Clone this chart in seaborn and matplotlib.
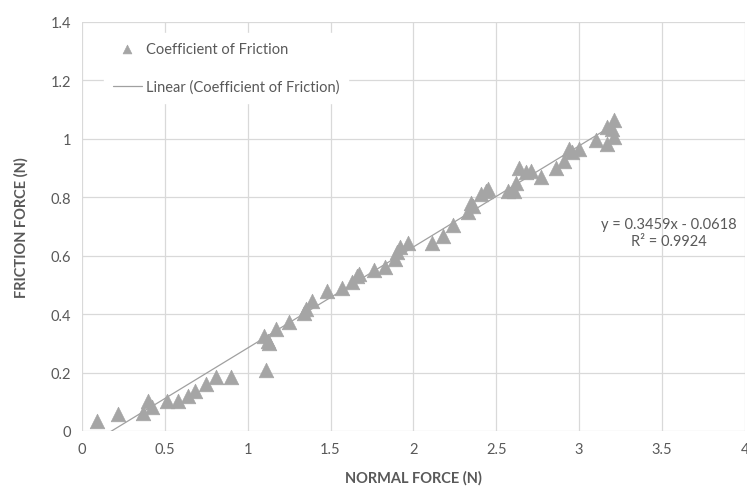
import matplotlib
matplotlib.use("Agg")
import matplotlib.pyplot as plt
import seaborn as sns
import numpy as np
import pandas as pd

normal_force = [0.09, 0.22, 0.37, 0.40, 0.42, 0.51, 0.58, 0.64, 0.68, 0.75, 0.81, 0.90,
                1.11, 1.10, 1.12, 1.13, 1.17, 1.25, 1.34, 1.35, 1.39, 1.48, 1.57, 1.63,
                1.66, 1.67, 1.76, 1.83, 1.89, 1.90, 1.92, 1.97, 2.11, 2.18, 2.24, 2.33,
                2.35, 2.36, 2.41, 2.44, 2.45, 2.57, 2.61, 2.62, 2.64, 2.68, 2.71, 2.77,
                2.86, 2.91, 2.94, 2.96, 3.00, 3.10, 3.17, 3.17, 3.20, 3.21, 3.21]
friction_force = [0.034, 0.058, 0.062, 0.103, 0.082, 0.103, 0.103, 0.120, 0.137, 0.160, 0.185, 0.185,
                  0.209, 0.325, 0.308, 0.300, 0.350, 0.373, 0.404, 0.418, 0.445, 0.479, 0.490, 0.510,
                  0.530, 0.537, 0.550, 0.560, 0.590, 0.613, 0.630, 0.643, 0.643, 0.668, 0.705, 0.750,
                  0.780, 0.770, 0.810, 0.820, 0.830, 0.820, 0.820, 0.850, 0.900, 0.887, 0.890, 0.870,
                  0.900, 0.925, 0.966, 0.955, 0.966, 0.997, 0.983, 1.040, 1.034, 1.065, 1.007]
trend_slope = 0.3459
trend_intercept = -0.0618
r_squared = 0.9924
x_ticks = [0, 0.5, 1, 1.5, 2, 2.5, 3, 3.5, 4]
x_tick_labels = ["0", "0.5", "1", "1.5", "2", "2.5", "3", "3.5", "4"]
y_ticks = [0, 0.2, 0.4, 0.6, 0.8, 1.0, 1.2, 1.4]
y_tick_labels = ["0", "0.2", "0.4", "0.6", "0.8", "1", "1.2", "1.4"]

sns.set_theme(style="white")
plt.rcParams['font.family'] = ['Lato', 'DejaVu Sans']

df = pd.DataFrame({"x": normal_force, "y": friction_force})
xs = np.array([min(normal_force), max(normal_force)])
trend = pd.DataFrame({"x": xs, "y": trend_slope * xs + trend_intercept})

fig = plt.figure(figsize=(7.47, 4.89), dpi=100)
ax = fig.add_axes([0.1098, 0.1166, 0.8872, 0.8364])

grid_c = "#D9D9D9"
txt_c = "#595959"
mk_c = "#A5A5A5"

sns.lineplot(data=trend, x="x", y="y", ax=ax, color="#A0A0A0", linewidth=0.9,
             label="Linear (Coefficient of Friction)", zorder=2)
sns.scatterplot(data=df, x="x", y="y", ax=ax, marker="^", s=110, color=mk_c,
                edgecolor=mk_c, linewidth=0.5, label="Coefficient of Friction", zorder=3)

ax.set_xlim(0, 4)
ax.set_ylim(0, 1.4)
ax.set_xticks(x_ticks)
ax.set_xticklabels(x_tick_labels)
ax.set_yticks(y_ticks)
ax.set_yticklabels(y_tick_labels)
ax.grid(True, color=grid_c, linewidth=0.9)
ax.set_axisbelow(True)
for s in ax.spines.values():
    s.set_visible(False)
ax.tick_params(axis="both", length=0, colors=txt_c, labelsize=10.5, pad=8)

ax.set_xlabel("NORMAL FORCE (N)", color=txt_c, fontsize=10.5, fontweight="bold", labelpad=10)
ax.set_ylabel("FRICTION FORCE (N)", color=txt_c, fontsize=10.5, fontweight="bold", labelpad=16)

ax.text(3.54, 0.68, f"y = {trend_slope}x - {abs(trend_intercept)}\nR² = {r_squared}",
        ha="center", va="center", color=txt_c, fontsize=10.5, linespacing=1.25)

h, l = ax.get_legend_handles_labels()
leg = ax.legend([h[1], h[0]], [l[1], l[0]], loc="upper left", bbox_to_anchor=(0.022, 0.99),
                frameon=True, fontsize=10.5, labelspacing=1.6, handlelength=2.0,
                handletextpad=0.3, borderpad=0.6, markerscale=0.6)
leg.get_frame().set_facecolor("white")
leg.get_frame().set_edgecolor("white")
leg.get_frame().set_alpha(1)
for t in leg.get_texts():
    t.set_color(txt_c)

fig.savefig("out.png", dpi=100)
